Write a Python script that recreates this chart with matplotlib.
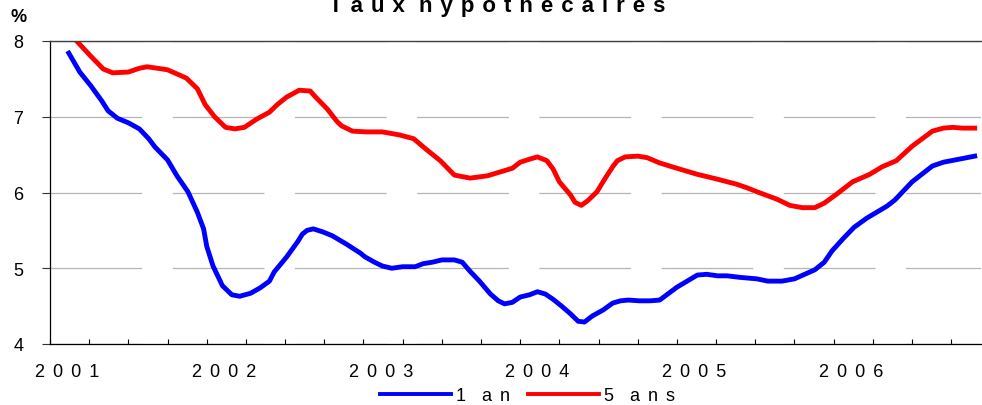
import numpy as np
import matplotlib
matplotlib.use("Agg")
import matplotlib.pyplot as plt

# Taux hypothecaires, 1 an et 5 ans (annee decimale / %)
one_year_x = [2001.12, 2001.19, 2001.26, 2001.33, 2001.37, 2001.43, 2001.50, 2001.57,
              2001.63, 2001.67, 2001.75, 2001.81, 2001.88, 2001.94, 2001.98, 2002.00,
              2002.04, 2002.10, 2002.16, 2002.21, 2002.28, 2002.34, 2002.40, 2002.43,
              2002.51, 2002.58, 2002.61, 2002.64, 2002.68, 2002.74, 2002.80, 2002.89,
              2002.98, 2003.01, 2003.07, 2003.12, 2003.18, 2003.25, 2003.33, 2003.38,
              2003.44, 2003.50, 2003.58, 2003.63, 2003.68, 2003.74, 2003.81, 2003.86,
              2003.90, 2003.95, 2004.00, 2004.06, 2004.11, 2004.16, 2004.21, 2004.27,
              2004.32, 2004.37, 2004.41, 2004.46, 2004.53, 2004.59, 2004.64, 2004.69,
              2004.76, 2004.83, 2004.89, 2005.00, 2005.13, 2005.19, 2005.26, 2005.32,
              2005.40, 2005.51, 2005.58, 2005.67, 2005.75, 2005.88, 2005.94, 2005.99,
              2006.06, 2006.13, 2006.21, 2006.34, 2006.39, 2006.50, 2006.63, 2006.70,
              2006.90]
one_year_rate = [7.84, 7.59, 7.41, 7.21, 7.08, 6.98, 6.92, 6.84,
                 6.71, 6.60, 6.43, 6.22, 6.01, 5.74, 5.52, 5.29,
                 5.03, 4.77, 4.65, 4.63, 4.67, 4.74, 4.83, 4.95,
                 5.15, 5.35, 5.45, 5.50, 5.52, 5.48, 5.43, 5.32,
                 5.20, 5.15, 5.08, 5.03, 5.00, 5.02, 5.02, 5.06,
                 5.08, 5.11, 5.11, 5.08, 4.96, 4.83, 4.66, 4.57,
                 4.53, 4.55, 4.62, 4.65, 4.69, 4.66, 4.59, 4.49,
                 4.40, 4.30, 4.29, 4.37, 4.45, 4.54, 4.57, 4.58,
                 4.57, 4.57, 4.58, 4.75, 4.91, 4.92, 4.90, 4.90,
                 4.88, 4.86, 4.83, 4.83, 4.86, 4.98, 5.08, 5.23,
                 5.39, 5.54, 5.66, 5.82, 5.90, 6.14, 6.35, 6.40,
                 6.48]

five_year_x = [2001.12, 2001.17, 2001.26, 2001.34, 2001.40, 2001.50, 2001.57, 2001.62,
               2001.75, 2001.87, 2001.94, 2001.99, 2002.05, 2002.12, 2002.18, 2002.24,
               2002.32, 2002.40, 2002.45, 2002.51, 2002.59, 2002.66, 2002.69, 2002.77,
               2002.83, 2002.86, 2002.93, 2003.02, 2003.12, 2003.23, 2003.32, 2003.40,
               2003.49, 2003.58, 2003.68, 2003.79, 2003.87, 2003.95, 2004.00, 2004.06,
               2004.11, 2004.17, 2004.21, 2004.25, 2004.32, 2004.35, 2004.39, 2004.43,
               2004.49, 2004.54, 2004.59, 2004.62, 2004.67, 2004.75, 2004.81, 2004.89,
               2005.00, 2005.13, 2005.25, 2005.38, 2005.45, 2005.51, 2005.64, 2005.72,
               2005.80, 2005.88, 2005.94, 2006.02, 2006.12, 2006.23, 2006.31, 2006.40,
               2006.50, 2006.63, 2006.70, 2006.76, 2006.82, 2006.90]
five_year_rate = [8.12, 8.00, 7.80, 7.63, 7.58, 7.59, 7.64, 7.66,
                  7.62, 7.51, 7.37, 7.16, 7.00, 6.86, 6.84, 6.86,
                  6.97, 7.06, 7.16, 7.26, 7.35, 7.34, 7.27, 7.10,
                  6.94, 6.88, 6.81, 6.80, 6.80, 6.76, 6.71, 6.57,
                  6.42, 6.23, 6.19, 6.22, 6.27, 6.32, 6.40, 6.44,
                  6.47, 6.42, 6.31, 6.14, 5.97, 5.87, 5.83, 5.89,
                  6.01, 6.18, 6.34, 6.42, 6.47, 6.48, 6.46, 6.39,
                  6.32, 6.24, 6.18, 6.11, 6.06, 6.01, 5.91, 5.83,
                  5.80, 5.80, 5.86, 5.98, 6.14, 6.24, 6.34, 6.42,
                  6.61, 6.81, 6.85, 6.86, 6.85, 6.85]

years = [2001, 2002, 2003, 2004, 2005, 2006]
y_ticks = [4, 5, 6, 7, 8]

title = "Taux hypothécaires"
series_names = ["1 an", "5 ans"]


def spaced(text, gap=" \u2006", word=" "):
    # fake letter spacing, like the original excel chart
    return (gap + word).join(gap.join(w) for w in text.split(" "))


plt.rcParams['font.family'] = ['Liberation Sans', 'DejaVu Sans']
plt.rcParams['lines.scale_dashes'] = False

fig = plt.figure(figsize=(9.82, 4.06), dpi=100)
ax = fig.add_axes([50 / 982, 61 / 406, 931 / 982, 303 / 406])

ax.plot(one_year_x, one_year_rate, color='#0000FF', lw=3.5,
        solid_joinstyle='round', label=spaced(series_names[0], word=" \u2006"))
ax.plot(five_year_x, five_year_rate, color='#FF0000', lw=3.5,
        solid_joinstyle='round', label=spaced(series_names[1], word=" \u2006"))

ax.set_xlim(2001, 2006.94)
ax.set_ylim(4, 8)

# quarterly tick marks, year labels sit in the first quarter
ax.set_xticks(np.arange(2001, 2006.9, 0.25))
ax.set_xticks([y + 0.11 for y in years], minor=True)
ax.set_xticklabels([spaced(str(y)) for y in years], minor=True)
ax.tick_params(axis='x', which='major', direction='in', length=3.6, width=0.8,
               labelbottom=False)
ax.tick_params(axis='x', which='minor', length=0, pad=13.5, labelsize=13)

ax.set_yticks(y_ticks)
ax.set_yticklabels([str(v) for v in y_ticks])
ax.tick_params(axis='y', direction='out', length=5.8, width=0.8, pad=13.5,
               labelsize=13, color='#333333')

ax.yaxis.grid(True, color='#B4B4B4', lw=0.9, linestyle=(0, (66, 22)))
ax.set_axisbelow(True)

ax.spines['right'].set_visible(False)
ax.spines['top'].set_color('#404040')
ax.spines['top'].set_linewidth(1.0)
ax.spines['left'].set_linewidth(0.9)
ax.spines['bottom'].set_linewidth(0.9)

# the title is cut at the top edge in the original too
fig.text(497 / 982, (406 - 12) / 406, spaced(title, gap=" \u200a"), ha='center',
         va='baseline', fontsize=16, weight='bold')
fig.text(19 / 982, (406 - 22) / 406, '%', ha='center', va='baseline',
         fontsize=13, weight='bold')

leg = fig.legend(loc='center', bbox_to_anchor=(527.5 / 982, 9 / 406), ncol=2,
                 frameon=False, fontsize=13, handlelength=3.94, handletextpad=0.28,
                 columnspacing=1.0, borderpad=0)
for line in leg.get_lines():
    line.set_linewidth(2.8)

fig.savefig('out.png', dpi=100)
